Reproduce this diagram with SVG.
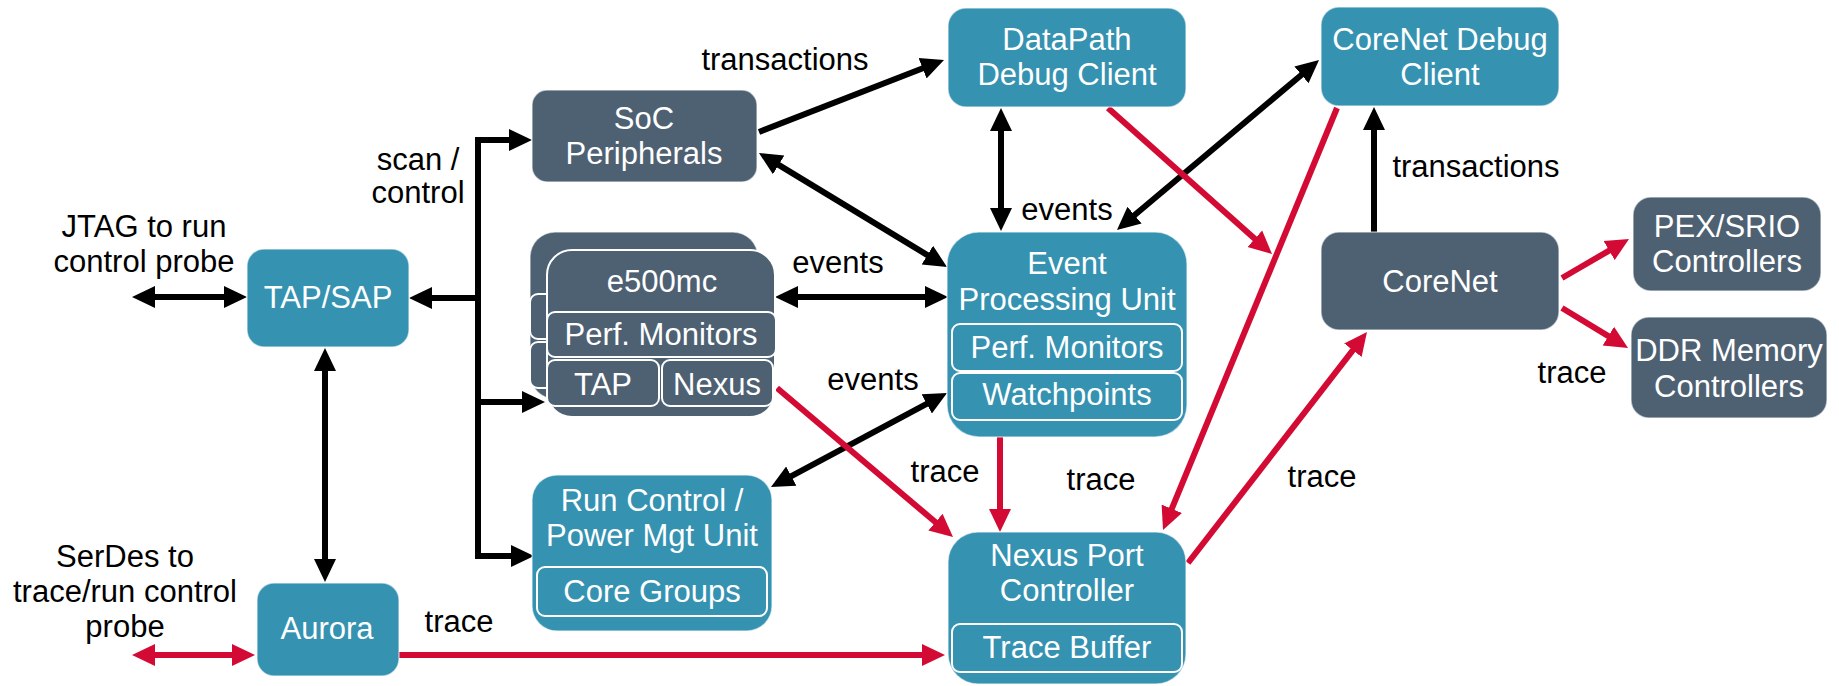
<svg xmlns="http://www.w3.org/2000/svg" width="1839" height="686" viewBox="0 0 1839 686">
<defs>
<style>
.teal{fill:#3592b1;stroke:#ffffff;stroke-opacity:0.55;stroke-width:1.5}
.slate{fill:#4e6173;stroke:#ffffff;stroke-opacity:0.55;stroke-width:1.5}
.sub{fill:none;stroke:#ffffff;stroke-width:2}
.subs{fill:#4e6173;stroke:#ffffff;stroke-width:2}
.nt{font-family:"Liberation Sans",Arial,sans-serif;font-size:31px;fill:#ffffff;text-anchor:middle}
.lb{font-family:"Liberation Sans",Arial,sans-serif;font-size:31px;fill:#000000;text-anchor:middle}
.blk{fill:none;stroke:#000000;stroke-width:6;marker-end:url(#ab)}
.blk2{fill:none;stroke:#000000;stroke-width:6;marker-start:url(#ab);marker-end:url(#ab)}
.red{fill:none;stroke:#d20a34;stroke-width:6;marker-end:url(#ar)}
.red2{fill:none;stroke:#d20a34;stroke-width:6;marker-start:url(#ar);marker-end:url(#ar)}
</style>
<marker id="ab" markerUnits="userSpaceOnUse" markerWidth="24" markerHeight="24" viewBox="0 -12 24 24" refX="1" refY="0" orient="auto-start-reverse"><path d="M0,-11 L23,0 L0,11 z" fill="#000000"/></marker>
<marker id="ar" markerUnits="userSpaceOnUse" markerWidth="24" markerHeight="24" viewBox="0 -12 24 24" refX="1" refY="0" orient="auto-start-reverse"><path d="M0,-11 L23,0 L0,11 z" fill="#d20a34"/></marker>
</defs>
<rect width="1839" height="686" fill="#ffffff"/>

<g id="connectors">
<!-- black -->
<path class="blk2" d="M154,297 H225"/>
<path class="blk" d="M478,298 H431"/>
<path class="blk2" d="M510,140 H478 V556 H512"/>
<path class="blk" d="M478,402 H523"/>
<path class="blk2" d="M325,370 V560"/>
<path class="blk" d="M759,132 L923.5,68"/>
<path class="blk2" d="M777.8,164.4 L928.2,255.6"/>
<path class="blk2" d="M1001,130 V209"/>
<path class="blk2" d="M797,297 H926"/>
<path class="blk2" d="M790.4,476.6 L927.6,403.4"/>
<path class="blk2" d="M1133.8,215.8 L1302.2,74.2"/>
<path class="blk" d="M1374,232 V129"/>
<!-- red -->
<path class="red2" d="M154,655 H233"/>
<path class="red" d="M399,655 H923"/>
<path class="red" d="M777,388 L936.2,522.8"/>
<path class="red" d="M1000,437 V510"/>
<path class="red" d="M1337,108 L1171.4,509.7"/>
<path class="red" d="M1188,563 L1353.5,349.4"/>
<path class="red" d="M1108,108 L1255.6,239.4"/>
<path class="red" d="M1562,278 L1610,250.1"/>
<path class="red" d="M1562,308 L1609.2,336.6"/>
</g>

<g id="labels">
<text class="lb" x="144" y="237">JTAG to run</text>
<text class="lb" x="144" y="272">control probe</text>
<text class="lb" x="418" y="170">scan /</text>
<text class="lb" x="418" y="203">control</text>
<text class="lb" x="125" y="567">SerDes to</text>
<text class="lb" x="125" y="602">trace/run control</text>
<text class="lb" x="125" y="637">probe</text>
<text class="lb" x="459" y="632">trace</text>
<text class="lb" x="785" y="70">transactions</text>
<text class="lb" x="1067" y="220">events</text>
<text class="lb" x="838" y="273">events</text>
<text class="lb" x="873" y="390">events</text>
<text class="lb" x="945" y="482">trace</text>
<text class="lb" x="1101" y="490">trace</text>
<text class="lb" x="1322" y="487">trace</text>
<text class="lb" x="1476" y="177">transactions</text>
<text class="lb" x="1572" y="383">trace</text>
</g>

<g id="tap-sap">
<rect class="teal" x="247" y="249" width="162" height="98" rx="17"/>
<text class="nt" x="328" y="308">TAP/SAP</text>
</g>

<g id="aurora">
<rect class="teal" x="257" y="583" width="142" height="93" rx="17"/>
<text class="nt" x="327" y="639">Aurora</text>
</g>

<g id="soc-peripherals">
<rect class="slate" x="532" y="90" width="225" height="92" rx="15"/>
<text class="nt" x="644" y="129">SoC</text>
<text class="nt" x="644" y="164">Peripherals</text>
</g>

<g id="e500mc">
<g id="e500mc-back">
<rect class="slate" x="530" y="232" width="228" height="167" rx="25"/>
<rect class="subs" x="530" y="294" width="229" height="45" rx="8"/>
<rect class="subs" x="530" y="342" width="112" height="46" rx="8"/>
</g>
<rect fill="#4e6173" stroke="#ffffff" stroke-width="2" x="547" y="250" width="228" height="167" rx="25"/>
<text class="nt" x="662" y="292">e500mc</text>
<rect class="subs" x="547" y="312" width="229" height="45" rx="8"/>
<text class="nt" x="661" y="345">Perf. Monitors</text>
<rect class="subs" x="547" y="360" width="112" height="46" rx="8"/>
<text class="nt" x="603" y="395">TAP</text>
<rect class="subs" x="662" y="360" width="111" height="46" rx="8"/>
<text class="nt" x="717" y="395">Nexus</text>
</g>

<g id="run-control">
<rect class="teal" x="532" y="475" width="240" height="156" rx="25"/>
<text class="nt" x="652" y="511">Run Control /</text>
<text class="nt" x="652" y="546">Power Mgt Unit</text>
<rect class="sub" x="537" y="567" width="230" height="49" rx="8"/>
<text class="nt" x="652" y="602">Core Groups</text>
</g>

<g id="datapath">
<rect class="teal" x="948" y="8" width="238" height="99" rx="18"/>
<text class="nt" x="1067" y="50">DataPath</text>
<text class="nt" x="1067" y="85">Debug Client</text>
</g>

<g id="epu">
<rect class="teal" x="947" y="232" width="240" height="205" rx="32"/>
<text class="nt" x="1067" y="274">Event</text>
<text class="nt" x="1067" y="310">Processing Unit</text>
<rect class="sub" x="952" y="324" width="230" height="47" rx="8"/>
<text class="nt" x="1067" y="358">Perf. Monitors</text>
<rect class="sub" x="952" y="373" width="230" height="47" rx="8"/>
<text class="nt" x="1067" y="405">Watchpoints</text>
</g>

<g id="nexus-port">
<rect class="teal" x="948" y="532" width="238" height="152" rx="30"/>
<text class="nt" x="1067" y="566">Nexus Port</text>
<text class="nt" x="1067" y="601">Controller</text>
<rect class="sub" x="952" y="624" width="230" height="48" rx="8"/>
<text class="nt" x="1067" y="658">Trace Buffer</text>
</g>

<g id="corenet-debug">
<rect class="teal" x="1321" y="7" width="238" height="99" rx="18"/>
<text class="nt" x="1440" y="50">CoreNet Debug</text>
<text class="nt" x="1440" y="85">Client</text>
</g>

<g id="corenet">
<rect class="slate" x="1321" y="232" width="238" height="98" rx="18"/>
<text class="nt" x="1440" y="292">CoreNet</text>
</g>

<g id="pex-srio">
<rect class="slate" x="1633" y="197" width="188" height="94" rx="18"/>
<text class="nt" x="1727" y="237">PEX/SRIO</text>
<text class="nt" x="1727" y="272">Controllers</text>
</g>

<g id="ddr">
<rect class="slate" x="1631" y="317" width="196" height="101" rx="18"/>
<text class="nt" x="1729" y="361">DDR Memory</text>
<text class="nt" x="1729" y="397">Controllers</text>
</g>
</svg>
